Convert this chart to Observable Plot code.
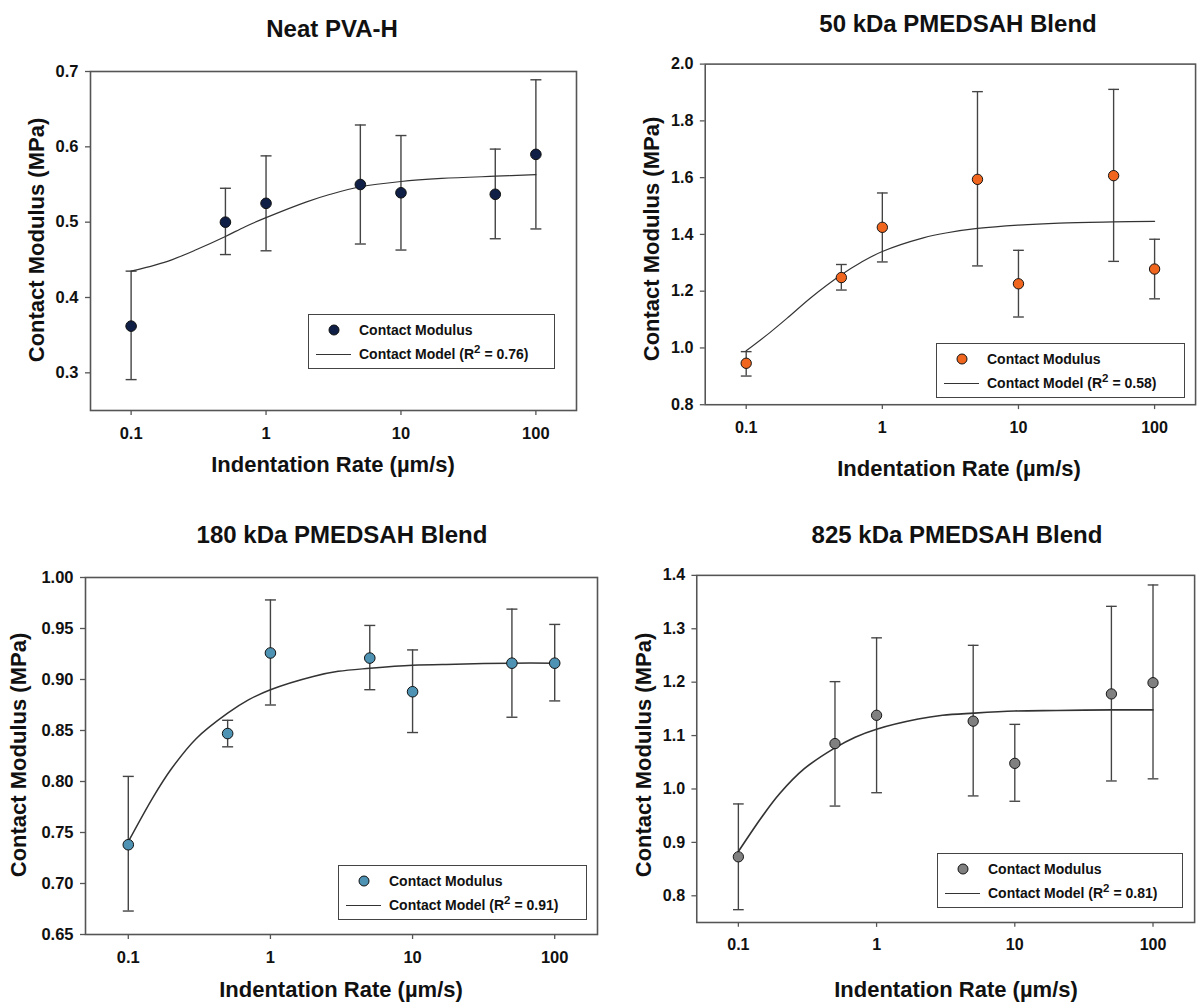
<!DOCTYPE html>
<html>
<head>
<meta charset="utf-8">
<script src="https://cdn.jsdelivr.net/npm/d3@7"></script>
<script src="https://cdn.jsdelivr.net/npm/@observablehq/plot@0.6"></script>
<style>
  html, body { margin: 0; padding: 0; background: #fff; }
  body { width: 1199px; height: 1002px; position: relative; overflow: hidden;
         font-family: "Liberation Sans", Arial, sans-serif; color: #111; }
  .panel { position: absolute; }
  .ttl { position: absolute; transform: translate(-50%, -50%); white-space: nowrap;
         font-weight: bold; font-size: 24px; }
  .axt { position: absolute; transform: translate(-50%, -50%); white-space: nowrap;
         font-weight: bold; font-size: 22px; }
  .axt.rot { transform: translate(-50%, -50%) rotate(-90deg); }
  .legend { position: absolute; border: 1.5px solid #444; background: #fff; box-sizing: border-box;
            font-weight: bold; font-size: 14px; }
  .legend .mk { position: absolute; width: 11px; height: 11px; border-radius: 50%;
                border: 1px solid #111; box-sizing: border-box; transform: translate(-50%, -50%); }
  .legend .ln { position: absolute; height: 0; border-top: 1.3px solid #333; }
  .legend .tx { position: absolute; transform: translateY(-50%); white-space: nowrap; }
  .legend sup { font-size: 11.5px; vertical-align: 6px; line-height: 0; }
</style>
</head>
<body>
<script>
// ---------- data ----------
const rates = [0.1, 0.5, 1, 5, 10, 50, 100];
const fitRates = [0.1, 0.15, 0.2, 0.3, 0.5, 0.7, 1, 2, 3, 5, 10, 20, 50, 100];
const xTicks = [0.1, 1, 10, 100];

const titles = ["Neat PVA-H", "50 kDa PMEDSAH Blend", "180 kDa PMEDSAH Blend", "825 kDa PMEDSAH Blend"];
const r2Values = ["0.76", "0.58", "0.91", "0.81"];

const neatMean = [0.362, 0.500, 0.525, 0.550, 0.539, 0.537, 0.590];
const neatLow  = [0.291, 0.457, 0.462, 0.471, 0.463, 0.478, 0.491];
const neatHigh = [0.435, 0.545, 0.588, 0.629, 0.615, 0.597, 0.689];
const neatFit  = [0.435, 0.443, 0.450, 0.463, 0.481, 0.494, 0.506, 0.527, 0.537, 0.547, 0.554, 0.558, 0.561, 0.563];
const neatYTicks = [0.3, 0.4, 0.5, 0.6, 0.7];

const k50Mean = [0.946, 1.248, 1.425, 1.594, 1.226, 1.607, 1.278];
const k50Low  = [0.901, 1.204, 1.303, 1.289, 1.109, 1.305, 1.173];
const k50High = [0.987, 1.294, 1.546, 1.903, 1.344, 1.911, 1.383];
const k50Fit  = [0.990, 1.055, 1.105, 1.178, 1.258, 1.302, 1.340, 1.388, 1.406, 1.421, 1.433, 1.440, 1.444, 1.446];
const k50YTicks = [0.8, 1.0, 1.2, 1.4, 1.6, 1.8, 2.0];

const k180Mean = [0.738, 0.847, 0.926, 0.921, 0.888, 0.916, 0.916];
const k180Low  = [0.673, 0.834, 0.875, 0.890, 0.848, 0.863, 0.879];
const k180High = [0.805, 0.860, 0.978, 0.953, 0.929, 0.969, 0.954];
const k180Fit  = [0.741, 0.785, 0.812, 0.842, 0.867, 0.880, 0.890, 0.903, 0.908, 0.911, 0.914, 0.915, 0.916, 0.916];
const k180YTicks = [0.65, 0.70, 0.75, 0.80, 0.85, 0.90, 0.95, 1.00];

const k825Mean = [0.873, 1.085, 1.138, 1.127, 1.048, 1.178, 1.199];
const k825Low  = [0.774, 0.968, 0.993, 0.987, 0.977, 1.015, 1.019];
const k825High = [0.972, 1.201, 1.283, 1.269, 1.121, 1.342, 1.382];
const k825Fit  = [0.883, 0.950, 0.992, 1.038, 1.077, 1.097, 1.112, 1.131, 1.138, 1.142, 1.146, 1.147, 1.148, 1.148];
const k825YTicks = [0.8, 0.9, 1.0, 1.1, 1.2, 1.3, 1.4];

// ---------- drawing ----------
const capSymbol = {
  draw(ctx, size) {
    const w = Math.sqrt(size / Math.PI);
    ctx.moveTo(-w, 0);
    ctx.lineTo(w, 0);
  }
};

const panels = [
  {title: titles[0], r2: r2Values[0], mean: neatMean, low: neatLow, high: neatHigh, fit: neatFit,
   yDomain: [0.25, 0.7], yTicks: neatYTicks, yFmt: d3.format(".1f"), fill: "#0f1f45", fitW: 1.2,
   left: 0, top: 0, width: 600, mL: 90, mR: 24, mT: 71, mB: 90,
   tpos: [332, 29], xpos: [333, 465], ypos: [37, 240], leg: [308, 314, 247, 55]},
  {title: titles[1], r2: r2Values[1], mean: k50Mean, low: k50Low, high: k50High, fit: k50Fit,
   yDomain: [0.8, 2.0], yTicks: k50YTicks, yFmt: d3.format(".1f"), fill: "#f0661f", fitW: 1.2,
   left: 600, top: 0, width: 612, mL: 107, mR: 4, mT: 65, mB: 87,
   tpos: [958, 24], xpos: [959, 469], ypos: [652, 239], leg: [936, 343, 249, 55]},
  {title: titles[2], r2: r2Values[2], mean: k180Mean, low: k180Low, high: k180High, fit: k180Fit,
   yDomain: [0.65, 1.0], yTicks: k180YTicks, yFmt: d3.format(".2f"), fill: "#4e93b3", fitW: 1.5,
   left: 0, top: 500, width: 600, mL: 85, mR: 3, mT: 77, mB: 66,
   tpos: [342, 535], xpos: [341, 990], ypos: [19, 755], leg: [338, 865, 249, 55]},
  {title: titles[3], r2: r2Values[3], mean: k825Mean, low: k825Low, high: k825High, fit: k825Fit,
   yDomain: [0.75, 1.4], yTicks: k825YTicks, yFmt: d3.format(".1f"), fill: "#808080", fitW: 1.7,
   left: 600, top: 500, width: 616, mL: 99, mR: 5, mT: 77, mB: 66,
   tpos: [957, 535], xpos: [956, 990], ypos: [644, 755], leg: [937, 853, 246, 55]}
];

function addDiv(cls, html, x, y) {
  const d = document.createElement("div");
  d.className = cls;
  d.innerHTML = html;
  d.style.left = x + "px";
  d.style.top = y + "px";
  document.body.appendChild(d);
  return d;
}

for (const p of panels) {
  const pts = rates.map((x, i) => ({x, y: p.mean[i], lo: p.low[i], hi: p.high[i]}));
  const fit = fitRates.map((x, i) => ({x, y: p.fit[i]}));
  const chart = Plot.plot({
    width: p.width, height: 500,
    marginLeft: p.mL, marginRight: p.mR, marginTop: p.mT, marginBottom: p.mB,
    style: {fontFamily: "'Liberation Sans', Arial, sans-serif",
            color: "#111", background: "transparent", overflow: "visible"},
    x: {type: "log", domain: [0.05, 200]},
    y: {domain: p.yDomain},
    marks: [
      Plot.frame({stroke: "#555", strokeWidth: 1.6}),
      Plot.axisX({ticks: xTicks, tickFormat: d => String(d), tickSize: 5, tickPadding: 12,
                  fontSize: 16.5, fontWeight: "bold", stroke: "#555", strokeWidth: 1.3, label: null}),
      Plot.axisY({ticks: p.yTicks, tickFormat: p.yFmt, tickSize: 5, tickPadding: 7,
                  fontSize: 16.5, fontWeight: "bold", stroke: "#555", strokeWidth: 1.3, label: null}),
      Plot.ruleX(pts, {x: "x", y1: "lo", y2: "hi", stroke: "#444", strokeWidth: 1.4}),
      Plot.dot(pts, {x: "x", y: "lo", symbol: capSymbol, r: 5.5, stroke: "#444", strokeWidth: 1.4}),
      Plot.dot(pts, {x: "x", y: "hi", symbol: capSymbol, r: 5.5, stroke: "#444", strokeWidth: 1.4}),
      Plot.line(fit, {x: "x", y: "y", curve: "catmull-rom", stroke: "#333", strokeWidth: p.fitW}),
      Plot.dot(pts, {x: "x", y: "y", r: 5.3, fill: p.fill, stroke: "#111", strokeWidth: 1})
    ]
  });
  const wrap = document.createElement("div");
  wrap.className = "panel";
  wrap.style.left = p.left + "px";
  wrap.style.top = p.top + "px";
  wrap.appendChild(chart);
  document.body.appendChild(wrap);

  addDiv("ttl", p.title, p.tpos[0], p.tpos[1]);
  addDiv("axt", "Indentation Rate (\u00b5m/s)", p.xpos[0], p.xpos[1]);
  addDiv("axt rot", "Contact Modulus (MPa)", p.ypos[0], p.ypos[1]);

  const [lx, ly, lw, lh] = p.leg;
  const leg = document.createElement("div");
  leg.className = "legend";
  leg.style.left = lx + "px"; leg.style.top = ly + "px";
  leg.style.width = lw + "px"; leg.style.height = lh + "px";
  leg.innerHTML =
    `<div class="mk" style="left:25px;top:15px;background:${p.fill}"></div>` +
    `<div class="tx" style="left:50px;top:15px">Contact Modulus</div>` +
    `<div class="ln" style="left:7px;width:35px;top:39px"></div>` +
    `<div class="tx" style="left:50px;top:39px">Contact Model (R<sup>2</sup> = ${p.r2})</div>`;
  document.body.appendChild(leg);
}
</script>
</body>
</html>
